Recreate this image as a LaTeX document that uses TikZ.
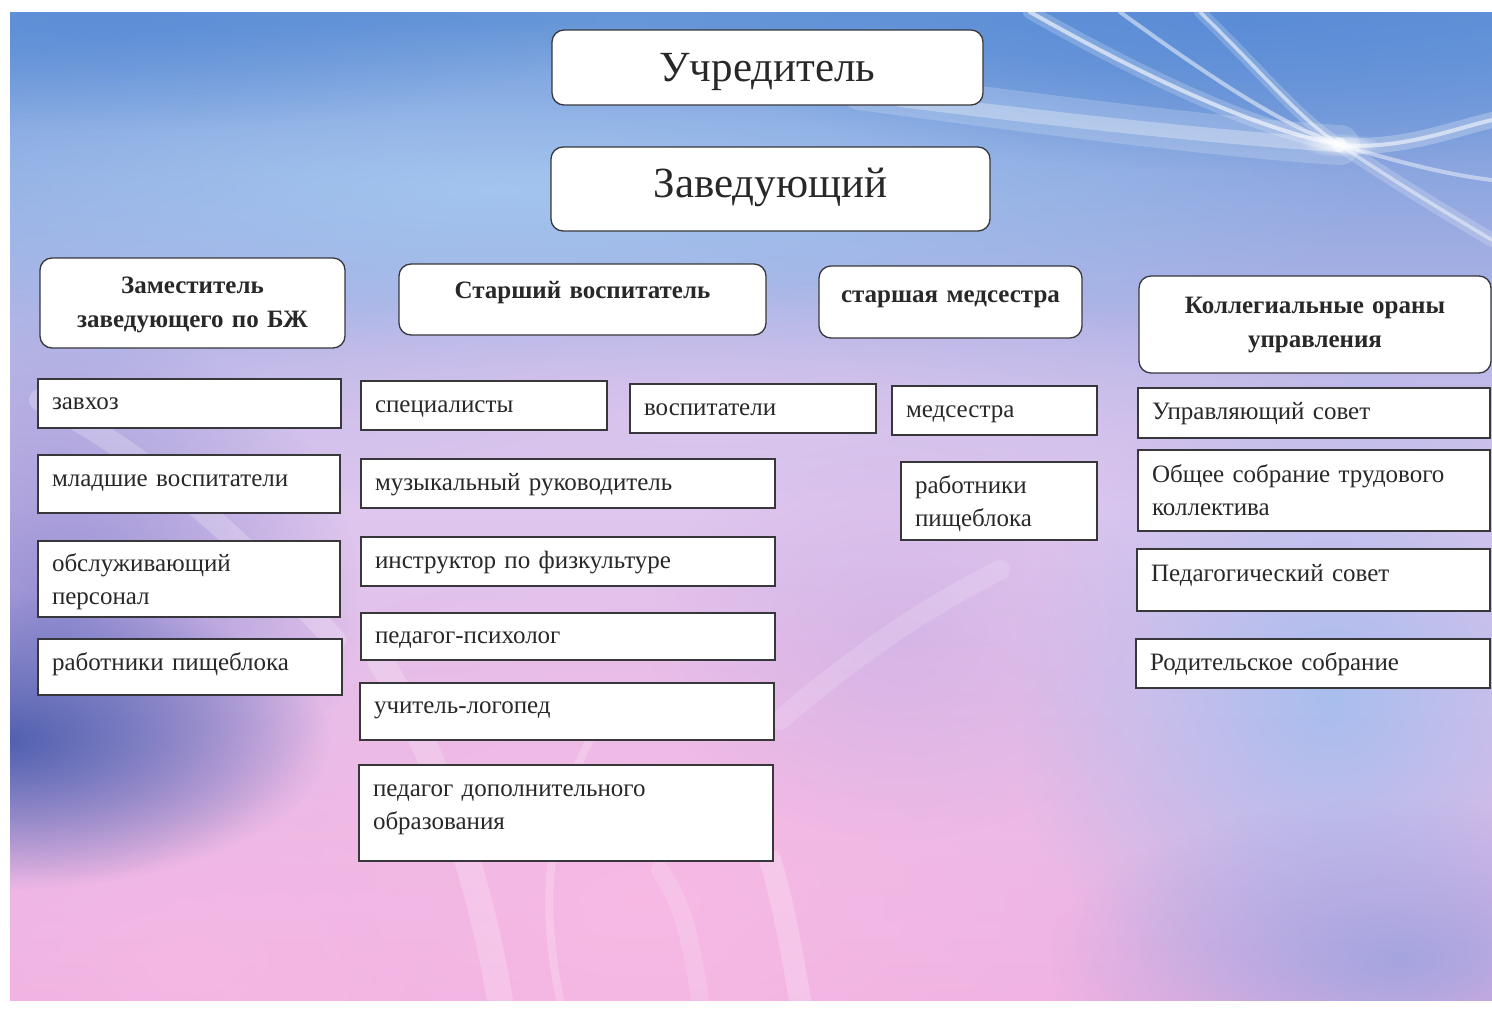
\documentclass[tikz,border=0pt]{standalone}
\usepackage{fontspec}
\setmainfont{Liberation Serif}
\usetikzlibrary{fadings,shadings}
\definecolor{txt}{RGB}{40,40,40}
\definecolor{edge}{RGB}{55,55,60}
\definecolor{c1}{RGB}{100,150,216}
\definecolor{c2}{RGB}{165,200,240}
\definecolor{c3}{RGB}{222,198,238}
\definecolor{c4}{RGB}{205,175,228}
\definecolor{c5}{RGB}{238,178,226}
\definecolor{pinkb}{RGB}{248,185,228}
\definecolor{darkb}{RGB}{72,92,172}
\definecolor{midb}{RGB}{130,130,205}
\definecolor{skyb}{RGB}{165,190,238}
\definecolor{deepb}{RGB}{88,138,214}
\definecolor{lavr}{RGB}{150,160,222}
\tikzfading[name=soft, inner color=transparent!0, outer color=transparent!100]
\newcommand\bx[8]{%
  \pgfmathsetmacro\bw{#5-#3-28}%
  \pgfmathsetmacro\bh{#7-#4}%
  \pgfmathsetmacro\bd{#6-#7}%
  \node[#2, anchor=north west, text width=\bw pt, text height=\bh pt, text depth=\bd pt] (#1) at (#3,#4) {#8};}
\tikzset{
  base/.style={draw=edge, fill=white, line width=1.3pt, inner xsep=14pt, inner ysep=0pt, outer sep=0pt, text=txt},
  sq/.style={base, align=left, font=\fontsize{25}{33.5}\selectfont},
  hd/.style={base, rounded corners=12pt, align=center, font=\bfseries\fontsize{25}{34}\selectfont},
  big/.style={base, rounded corners=12pt, align=center, font=\fontsize{43}{48}\selectfont},
  blob/.style={fill=#1, path fading=soft},
  ray/.style={white, line cap=round},
}
\begin{document}
\begin{tikzpicture}[x=1pt,y=-1pt]
\useasboundingbox (0,0) rectangle (1492,1010);
\fill[white] (0,0) rectangle (1492,1010);
% background
\begin{scope}
\clip (10,12) rectangle (1492,1000);
\shade[shading=axis, shading angle=0, top color=c1, bottom color=c5, middle color=c3] (10,12) rectangle (1492,1000);
\fill[blob=c2, fill opacity=0.9] (500,190) ellipse [x radius=900, y radius=170];
\fill[blob=deepb, fill opacity=0.8] (1250,20) ellipse [x radius=600, y radius=150];
\fill[blob=deepb, fill opacity=0.6] (100,20) ellipse [x radius=500, y radius=110];
\fill[blob=c3, fill opacity=0.8] (700,420) ellipse [x radius=700, y radius=140];
\fill[blob=pinkb, fill opacity=0.95] (640,900) ellipse [x radius=560, y radius=330];
\fill[blob=pinkb, fill opacity=0.7] (180,960) ellipse [x radius=300, y radius=170];
\fill[blob=midb, fill opacity=0.8] (60,600) ellipse [x radius=300, y radius=280];
\fill[blob=darkb, fill opacity=0.95] (0,740) ellipse [x radius=330, y radius=150];
\fill[blob=skyb, fill opacity=0.95] (1330,700) ellipse [x radius=320, y radius=330];
\fill[blob=lavr, fill opacity=0.8] (1400,960) ellipse [x radius=350, y radius=160];
\fill[blob=c4, fill opacity=0.6] (900,640) ellipse [x radius=250, y radius=200];
% light streaks (top right)
\draw[ray, opacity=0.18, line width=40pt] (860,90) .. controls (1080,120) and (1250,140) .. (1340,145);
\draw[ray, opacity=0.3, line width=14pt] (900,100) .. controls (1100,125) and (1250,140) .. (1340,145);
\draw[ray, opacity=0.2, line width=14pt] (1030,12) .. controls (1150,80) and (1260,130) .. (1340,145);
\draw[ray, opacity=0.6, line width=4pt] (1030,12) .. controls (1150,80) and (1260,130) .. (1340,145);
\draw[ray, opacity=0.2, line width=12pt] (1200,12) .. controls (1260,70) and (1300,120) .. (1340,145);
\draw[ray, opacity=0.55, line width=3.5pt] (1200,12) .. controls (1260,70) and (1300,120) .. (1340,145);
\draw[ray, opacity=0.5, line width=4pt] (1120,12) .. controls (1200,70) and (1280,125) .. (1340,145);
\draw[ray, opacity=0.25, line width=16pt] (1340,145) .. controls (1400,150) and (1450,130) .. (1492,120);
\draw[ray, opacity=0.55, line width=4pt] (1340,145) .. controls (1400,150) and (1450,130) .. (1492,120);
\draw[ray, opacity=0.45, line width=4pt] (1340,145) .. controls (1410,165) and (1450,175) .. (1492,180);
\draw[ray, opacity=0.2, line width=14pt] (1340,145) .. controls (1400,185) and (1450,215) .. (1492,240);
\draw[ray, opacity=0.45, line width=3.5pt] (1340,145) .. controls (1400,185) and (1450,215) .. (1492,240);
\fill[ray, path fading=soft, opacity=0.9] (1340,145) ellipse [x radius=40, y radius=12];
% light streaks (lower)
\draw[ray, opacity=0.2, line width=26pt] (500,1000) .. controls (480,880) and (440,760) .. (380,660);
\draw[ray, opacity=0.2, line width=8pt] (560,1000) .. controls (540,900) and (545,820) .. (600,720);
\draw[ray, opacity=0.22, line width=22pt] (800,1000) .. controls (790,940) and (780,890) .. (770,860);
\draw[ray, opacity=0.15, line width=18pt] (700,1000) .. controls (690,930) and (680,900) .. (660,870);
\draw[ray, opacity=0.15, line width=20pt] (780,720) .. controls (850,660) and (920,610) .. (1000,570);
\draw[ray, opacity=0.22, line width=22pt] (40,400) .. controls (160,460) and (260,560) .. (335,640);
\end{scope}
% top
\bx{uchr}{big}{552}{30}{983}{105}{81}{Учредитель}
\bx{zav}{big}{551}{147}{990}{231}{197}{Заведующий}
% headings
\bx{zam}{hd}{40}{258}{345}{348}{293}{Заместитель\\заведующего по БЖ}
\bx{stv}{hd}{399}{264}{766}{335}{298}{Старший воспитатель}
\bx{stm}{hd}{819}{266}{1082}{338}{302}{старшая медсестра}
\bx{kol}{hd}{1139}{276}{1491}{373}{313}{Коллегиальные ораны\\управления}
% column 1
\bx{zavhoz}{sq}{38}{379}{341}{428}{409}{завхоз}
\bx{mlv}{sq}{38}{455}{340}{513}{486}{младшие воспитатели}
\bx{obs}{sq}{38}{541}{340}{617}{571}{обслуживающий\\персонал}
\bx{rab}{sq}{38}{639}{342}{695}{670}{работники пищеблока}
% column 2
\bx{spec}{sq}{361}{381}{607}{430}{412}{специалисты}
\bx{vosp}{sq}{630}{384}{876}{433}{415}{воспитатели}
\bx{mus}{sq}{361}{459}{775}{508}{490}{музыкальный руководитель}
\bx{instr}{sq}{361}{537}{775}{586}{568}{инструктор по физкультуре}
\bx{psy}{sq}{361}{613}{775}{660}{643}{педагог-психолог}
\bx{log}{sq}{360}{683}{774}{740}{713}{учитель-логопед}
\bx{dop}{sq}{359}{765}{773}{861}{796}{педагог дополнительного\\образования}
% column 3
\bx{meds}{sq}{892}{386}{1097}{435}{417}{медсестра}
\bx{rab2}{sq}{901}{462}{1097}{540}{493}{работники\\пищеблока}
% column 4
\bx{upr}{sq}{1138}{388}{1490}{438}{419}{Управляющий совет}
\bx{obsch}{sq}{1138}{450}{1490}{531}{482}{Общее собрание трудового\\коллектива}
\bx{ped}{sq}{1137}{549}{1490}{611}{581}{Педагогический совет}
\bx{rod}{sq}{1136}{639}{1490}{688}{670}{Родительское собрание}
\end{tikzpicture}
\end{document}
